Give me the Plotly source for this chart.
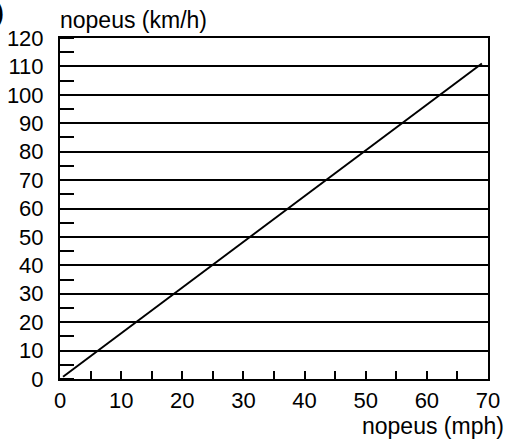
import plotly.graph_objects as go

# Speed conversion: miles per hour against kilometres per hour
mph = [0.5, 69]
kmh = [0.8, 111]

x_ticks = [0, 10, 20, 30, 40, 50, 60, 70]
y_ticks = [0, 10, 20, 30, 40, 50, 60, 70, 80, 90, 100, 110, 120]

FONT = "Liberation Sans, Arial, sans-serif"

fig = go.Figure()
fig.add_trace(go.Scatter(
    x=mph, y=kmh, mode="lines",
    line=dict(color="black", width=2),
    showlegend=False, hoverinfo="skip",
))

fig.update_layout(
    width=505, height=441,
    margin=dict(l=60, r=17, t=38, b=62, autoexpand=False),
    paper_bgcolor="white", plot_bgcolor="white",
    font=dict(family=FONT, size=22, color="black"),
    xaxis=dict(
        range=[0, 70], tickvals=x_ticks, ticks="inside", ticklen=8,
        tickwidth=1.5, tickcolor="black",
        minor=dict(dtick=5, tick0=0, ticks="inside", ticklen=8,
                   tickwidth=1.5, tickcolor="black", showgrid=False),
        showgrid=False, zeroline=False, automargin=False,
        showline=True, linecolor="black", linewidth=2, mirror=True,
        ticklabelstandoff=1,
    ),
    yaxis=dict(
        range=[0, 120], tickvals=y_ticks, ticks="",
        showgrid=True, gridcolor="black", gridwidth=1.5,
        minor=dict(dtick=5, tick0=0, ticks="inside", ticklen=14,
                   tickwidth=1.5, tickcolor="black", showgrid=False),
        zeroline=False, automargin=False,
        showline=True, linecolor="black", linewidth=2, mirror=True,
        ticklabelstandoff=10,
    ),
    annotations=[
        dict(text="nopeus (km/h)", xref="paper", yref="paper",
             x=0, y=1, xanchor="left", yanchor="bottom", yshift=3, xshift=-2,
             showarrow=False, font=dict(size=23)),
        dict(text="nopeus (mph)", xref="paper", yref="paper",
             x=1, y=0, xanchor="right", yanchor="top", xshift=18, yshift=-32,
             showarrow=False, font=dict(size=23)),
        dict(text="<b>b)</b>", xref="paper", yref="paper",
             x=0, y=1, xanchor="right", yanchor="bottom", xshift=-54, yshift=10,
             showarrow=False, font=dict(size=24)),
    ],
)

fig.write_html("out.html")
